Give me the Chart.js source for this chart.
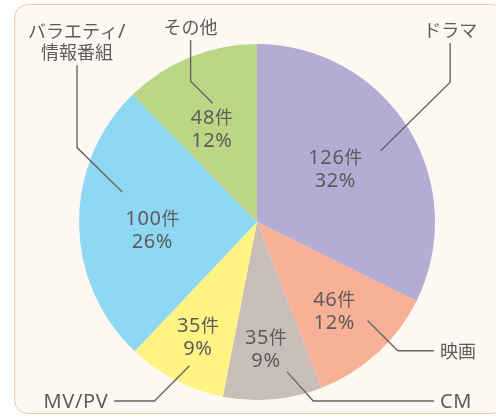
<!doctype html>
<html lang="ja">
<head>
  <meta charset="utf-8" />
  <title>ジャンル別</title>
  <style>
    html, body { margin: 0; padding: 0; background: #fff; }
    #marco {
      position: absolute; left: 14px; top: 4px; width: 490px; height: 408px;
      border: 1.5px solid #f7c898; border-radius: 14px; background: #fdf9f2;
    }
    #caja { position: absolute; left: 0; top: 0; width: 496px; height: 419px; }
  </style>
</head>
<body>
  <div id="marco"></div>
  <div id="caja"><canvas id="lienzo"></canvas></div>
  <script src="https://cdn.jsdelivr.net/npm/chart.js"></script>
  <script>
    // datos
    const generos = ["ドラマ", "映画", "CM", "MV/PV", "バラエティ/情報番組", "その他"];
    const etiquetas = [["ドラマ"], ["映画"], ["CM"], ["MV/PV"], ["バラエティ/", "情報番組"], ["その他"]];
    const cantidades = [126, 46, 35, 35, 100, 48];
    const porcentajes = [32, 12, 9, 9, 26, 12];
    const colores = ["#b3acd4", "#f8b096", "#c8bdb8", "#fef383", "#8fd8f4", "#bbd786"];

    // texto interior: fraccion del radio y desvio de angulo (grados)
    const radioTexto = [0.534, 0.658, 0.711, 0.725, 0.589, 0.581];
    const desvio = [-2.6, 1.2, 1.0, 0, -3.4, -3.7];
    // lineas guia en unidades de radio desde el centro: inicio, codo, fin; y lado del texto
    const guias = [
      { p: [[0.695, -0.40], [1.085, -0.785], [1.085, -1.006]], lado: "arriba" },
      { p: [[0.621, 0.554], [0.791, 0.723], [0.994, 0.723]], lado: "der" },
      { p: [[0.169, 0.842], [0.316, 1.006], [0.994, 1.006]], lado: "der" },
      { p: [[-0.379, 0.808], [-0.576, 1.006], [-0.802, 1.006]], lado: "izq" },
      { p: [[-0.757, -0.169], [-1.011, -0.418], [-1.011, -0.881]], lado: "arriba" },
      { p: [[-0.249, -0.667], [-0.373, -0.791], [-0.373, -1.023]], lado: "arriba" }
    ];

    const fuenteLatina = '20px "Noto Sans", sans-serif';
    const fuenteJp = '18px "Noto Sans CJK JP", sans-serif';
    const colorTexto = "#5c5c5c";

    // dibuja texto mezclando letras latinas (mas grandes) y japonesas
    function texto(ctx, t, x, y, alinear) {
      const partes = t.match(/[\x00-\x7F]+|[^\x00-\x7F]+/g);
      const medidas = partes.map(p => {
        const latina = /[\x00-\x7F]/.test(p);
        ctx.font = latina ? fuenteLatina : fuenteJp;
        ctx.letterSpacing = latina ? "0.6px" : "0px";
        return { p, latina, w: ctx.measureText(p).width };
      });
      const total = medidas.reduce((s, m) => s + m.w, 0);
      let px = alinear === "center" ? x - total / 2 : alinear === "right" ? x - total : x;
      ctx.textAlign = "left";
      ctx.textBaseline = "alphabetic";
      medidas.forEach(m => {
        ctx.font = m.latina ? fuenteLatina : fuenteJp;
        ctx.letterSpacing = m.latina ? "0.6px" : "0px";
        ctx.fillText(m.p, px, y + 7);
        px += m.w;
      });
    }

    const rotulos = {
      id: "rotulos",
      afterDatasetsDraw(chart) {
        const ctx = chart.ctx;
        const arcos = chart.getDatasetMeta(0).data;
        ctx.save();
        ctx.fillStyle = colorTexto;
        arcos.forEach((arco, i) => {
          const cx = arco.x, cy = arco.y, R = arco.outerRadius;
          const medio = (arco.startAngle + arco.endAngle) / 2 + desvio[i] * Math.PI / 180;
          const tx = cx + Math.cos(medio) * R * radioTexto[i];
          const ty = cy + Math.sin(medio) * R * radioTexto[i];
          texto(ctx, cantidades[i] + "件", tx, ty - 11.5, "center");
          texto(ctx, porcentajes[i] + "%", tx, ty + 11.5, "center");

          const pts = guias[i].p.map(q => [cx + q[0] * R, cy + q[1] * R]);
          ctx.strokeStyle = "#666";
          ctx.lineWidth = 1.4;
          ctx.beginPath();
          ctx.moveTo(pts[0][0], pts[0][1]);
          ctx.lineTo(pts[1][0], pts[1][1]);
          ctx.lineTo(pts[2][0], pts[2][1]);
          ctx.stroke();

          const fin = pts[2];
          const lineas = etiquetas[i];
          if (guias[i].lado === "arriba") {
            lineas.forEach((t, k) => {
              texto(ctx, t, fin[0], fin[1] - 13 - (lineas.length - 1 - k) * 21, "center");
            });
          } else if (guias[i].lado === "der") {
            texto(ctx, lineas[0], fin[0] + 6, fin[1], "left");
          } else {
            texto(ctx, lineas[0], fin[0] - 6, fin[1], "right");
          }
        });
        ctx.restore();
      }
    };

    const lienzo = document.querySelector("#lienzo");
    new Chart(lienzo, {
      type: "pie",
      data: {
        labels: generos,
        datasets: [{
          data: cantidades,
          backgroundColor: colores,
          borderWidth: 0
        }]
      },
      options: {
        responsive: true,
        maintainAspectRatio: false,
        animation: false,
        layout: { padding: { left: 79, right: 61, top: 44, bottom: 19 } },
        plugins: {
          legend: { display: false },
          tooltip: { enabled: false }
        }
      },
      plugins: [rotulos]
    });
  </script>
</body>
</html>
